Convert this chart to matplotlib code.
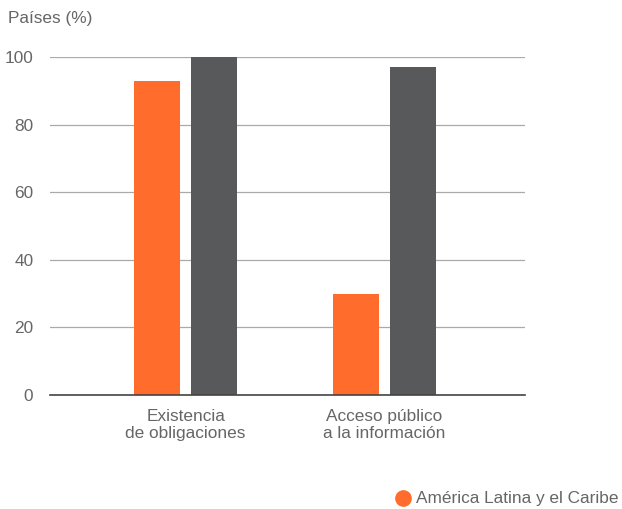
import matplotlib.pyplot as plt
import numpy as np

categories = ['Existencia\nde obligaciones', 'Acceso público\na la información']
latam = [93, 30]
otros = [100, 97]
yticks = [0, 20, 40, 60, 80, 100]

orange = '#FF6C2C'
grey = '#58595B'
txt = '#666666'
fs = 12.4

plt.rcParams['font.family'] = ['Liberation Sans', 'DejaVu Sans']

fig = plt.figure(figsize=(6.22, 5.09), dpi=100)
ax = fig.add_axes([0.0804, 0.224, 0.764, 0.664])

x = np.arange(len(categories))
w = 0.232
ax.bar(x - 0.1436, latam, w, color=orange, zorder=3)
ax.bar(x + 0.1436, otros, w, color=grey, zorder=3)

ax.set_xlim(-0.683, 1.71)
ax.set_ylim(0, 100)
ax.set_yticks(yticks)
ax.set_xticks(x)
ax.set_xticklabels(categories, fontsize=fs, color=txt, linespacing=1.15)
ax.tick_params(axis='y', length=0, pad=12, labelsize=fs, labelcolor=txt)
ax.tick_params(axis='x', length=0, pad=10)
ax.grid(axis='y', color='#aaaaaa', linewidth=0.9, zorder=0)
ax.set_axisbelow(True)
for s in ['top', 'right', 'left']:
    ax.spines[s].set_visible(False)
ax.spines['bottom'].set_color('#444444')
ax.spines['bottom'].set_linewidth(1.2)
ax.spines['bottom'].set_zorder(4)

fig.text(8 / 622, 1 - 18 / 509, 'Países (%)', fontsize=fs, color=txt, va='center', ha='left')

# legend at bottom right
fig.lines.append(plt.Line2D([403 / 622], [1 - 498 / 509], marker='o', markersize=11,
                            color=orange, linestyle='none', transform=fig.transFigure))
fig.text(416 / 622, 1 - 498 / 509, 'América Latina y el Caribe', fontsize=fs, color=txt,
         va='center', ha='left')

fig.savefig('out.png', dpi=100)
